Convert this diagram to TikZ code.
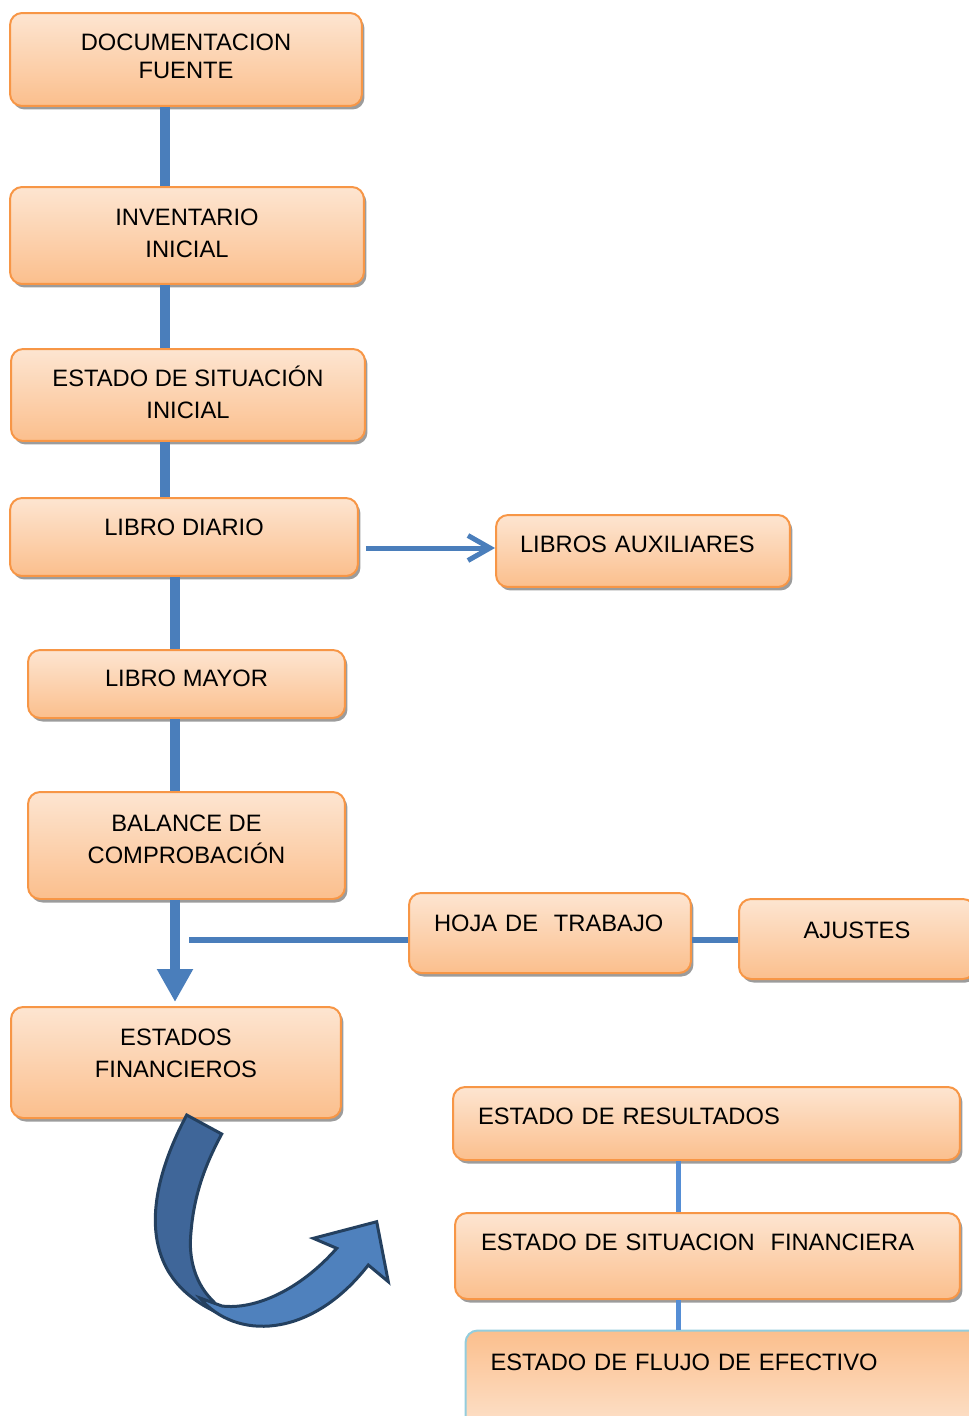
\documentclass[tikz,border=0pt]{standalone}
\usepackage{fontspec}
\setmainfont{Liberation Sans}
\usetikzlibrary{shadows, arrows.meta, calc}

\definecolor{boxtop}{HTML}{FDE5D1}
\definecolor{boxbottom}{HTML}{FBBF8D}
\definecolor{boxedge}{HTML}{F79646}
\definecolor{boxshade}{HTML}{9C9C9C}
\definecolor{linkblue}{HTML}{4A7EBB}
\definecolor{pipeblue}{HTML}{558ED5}
\definecolor{flowedge}{HTML}{93CDDD}
\definecolor{bendfront}{HTML}{4F81BD}
\definecolor{bendback}{HTML}{3F6699}
\definecolor{bendedge}{HTML}{24405F}

\newcommand{\boxfont}{\fontsize{13.5}{18}\selectfont}

\begin{document}
\begin{tikzpicture}[
    x=0.02cm, y=-0.02cm,
    stage/.style={
        rectangle,
        rounded corners=0.24cm,
        draw=boxedge,
        line width=0.04cm,
        top color=boxtop,
        bottom color=boxbottom,
        drop shadow={shadow xshift=0.05cm, shadow yshift=-0.07cm, fill=boxshade, opacity=1},
        inner sep=0pt,
        align=center,
        font=\boxfont
    },
    twoline/.style={ % Two lines, lifted a little
        text height=0.982cm,
        text depth=#1
    },
    lefttext/.style={ % Text set from the left edge
        align=left,
        inner xsep=0.5cm
    },
    spine/.style={
        draw=linkblue,
        line width=0.2cm
    },
    link/.style={
        draw=linkblue,
        line width=0.12cm
    },
    feed/.style={
        draw=linkblue,
        line width=0.1cm
    },
    pipe/.style={
        draw=pipeblue,
        line width=0.1cm
    },
    curlarrow/.style={
        draw=bendedge,
        line width=0.06cm
    }
]
    \useasboundingbox (0,0) rectangle (969,1416);
    \clip (0,0) rectangle (969,1416);

    % Main column
    \node[stage, twoline=0.14cm, text height=0.911cm, font=\fontsize{13.5}{16}\selectfont, minimum width=7.04cm, minimum height=1.86cm] (doc) at (186,59.5) {DOCUMENTACION\\FUENTE};
    \node[stage, twoline=0.12cm, minimum width=7.08cm, minimum height=1.94cm] (inv) at (187,235.5) {INVENTARIO\\INICIAL};
    \node[stage, twoline=0.04cm, minimum width=7.08cm, minimum height=1.84cm] (esi) at (188,395) {ESTADO DE SITUACIÓN\\INICIAL};
    \node[stage, minimum width=6.96cm, minimum height=1.56cm, text depth=0.4cm] (ld) at (184,537) {LIBRO DIARIO};
    \node[stage, minimum width=6.34cm, minimum height=1.36cm, text depth=0.24cm] (lm) at (186.5,684) {LIBRO MAYOR};
    \node[stage, twoline=0.28cm, minimum width=6.34cm, minimum height=2.14cm] (bc) at (186.5,845.5) {BALANCE DE\\COMPROBACIÓN};
    \node[stage, twoline=0.38cm, minimum width=6.6cm, minimum height=2.22cm] (ef) at (176,1062.5) {ESTADOS\\FINANCIEROS};

    % Side boxes
    \node[stage, lefttext, minimum width=5.88cm, minimum height=1.44cm, text depth=0.28cm, inner xsep=0.48cm, text width=4.92cm] (la) at (643,551) {LIBROS AUXILIARES};
    \node[stage, lefttext, minimum width=5.64cm, minimum height=1.6cm, text depth=0.4cm, text width=4.64cm] (hoja) at (550,933) {HOJA DE\ \ TRABAJO};
    \node[stage, minimum width=4.72cm, minimum height=1.6cm, text depth=0.36cm] (aj) at (857,939) {AJUSTES};

    % Statements
    \node[stage, lefttext, minimum width=10.14cm, minimum height=1.46cm, text depth=0.3cm, text width=9.14cm] (er) at (706.5,1123.5) {ESTADO DE RESULTADOS};
    \node[stage, lefttext, minimum width=10.1cm, minimum height=1.72cm, text depth=0.56cm, inner xsep=0.52cm, text width=9.06cm] (esf) at (707.5,1256) {ESTADO DE SITUACION\ \ FINANCIERA};
    \node[stage, lefttext, draw=flowedge, top color=boxbottom, bottom color=boxtop, minimum width=10.3cm, minimum height=2.18cm, text depth=0.92cm, text width=9.3cm] (efe) at (723,1385) {ESTADO DE FLUJO DE EFECTIVO};

    \coordinate (spineA) at (165,0);
    \coordinate (spineB) at (175,0);
    \coordinate (spineC) at (678,0);
    \coordinate (feedy) at (0,548);
    \coordinate (tap) at (189,940);

    \draw[spine] (doc.south -| spineA) -- (inv.north -| spineA);
    \draw[spine] (inv.south -| spineA) -- (esi.north -| spineA);
    \draw[spine] (esi.south -| spineA) -- (ld.north -| spineA);
    \draw[spine] (ld.south -| spineB) -- (lm.north -| spineB);
    \draw[spine] (lm.south -| spineB) -- (bc.north -| spineB);
    \draw[spine, -{Triangle[length=0.66cm, width=0.68cm]}, shorten >=0.08cm] (bc.south -| spineB) -- (ef.north -| spineB);

    \draw[feed, -{Straight Barb[length=0.44cm, width=0.5cm]}, shorten <=0.14cm] (ld.east |- feedy) -- (la.west |- feedy);
    \draw[link] (tap) -- (hoja.west |- tap);
    \draw[link] (hoja.east |- tap) -- (aj.west |- tap);

    \draw[pipe] (er.south -| spineC) -- (esf.north -| spineC);
    \draw[pipe] (esf.south -| spineC) -- (efe.north -| spineC);

    % Bent arrow
    \draw[curlarrow, fill=bendback] (186.7,1115) .. controls (160,1165) and (150,1210) .. (158,1245)
        .. controls (166,1280) and (190,1300) .. (218,1313) -- (214,1302)
        .. controls (196,1285) and (188,1260) .. (191,1232)
        .. controls (194,1195) and (205,1165) .. (221.7,1134) -- cycle;
    \draw[curlarrow, fill=bendfront] (200,1298) .. controls (235,1340) and (310,1340) .. (368.3,1265)
        -- (388.3,1281.7) -- (376.7,1221.7) -- (313.3,1238.3) -- (336.7,1248.3)
        .. controls (300,1290) and (255,1310) .. (222,1306) -- cycle;
\end{tikzpicture}
\end{document}
